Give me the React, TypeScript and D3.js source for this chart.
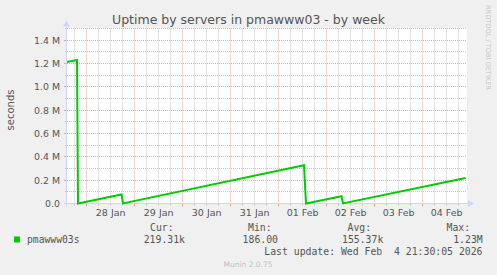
import React from "react";
import * as d3 from "d3";

// ---- data ----
const title = "Uptime by servers in pmawww03 - by week";
const yAxisLabel = "seconds";
const seriesName = "pmawww03s";
const sampleTimes = [
  "2026-01-27T14:10",
  "2026-01-27T19:10",
  "2026-01-27T19:40",
  "2026-01-28T17:25",
  "2026-01-28T18:10",
  "2026-02-01T12:40",
  "2026-02-01T13:40",
  "2026-02-02T07:25",
  "2026-02-02T08:10",
  "2026-02-04T21:30",
];
const uptimeValues = [1212000, 1230000, 186, 78000, 1000, 328000, 500, 62000, 900, 219310];
const yTicks = [0, 200000, 400000, 600000, 800000, 1000000, 1200000, 1400000];
const yTickLabels = ["0.0", "0.2 M", "0.4 M", "0.6 M", "0.8 M", "1.0 M", "1.2 M", "1.4 M"];
const xDomain = ["2026-01-27T14:10", "2026-02-04T22:10"];
const yMax = 1500000;
const legendHeaders = ["Cur:", "Min:", "Avg:", "Max:"];
const legendValues = ["219.31k", "186.00", "155.37k", "1.23M"];
const lastUpdate = "Last update: Wed Feb  4 21:30:05 2026";
const footer = "Munin 2.0.75";
const watermark = "RRDTOOL / TOBI OETIKER";

const W = 497;
const H = 275;
const L = 67, R = 467, T = 28.5, B = 203.5;

const parse = d3.utcParse("%Y-%m-%dT%H:%M");

export default function App() {
  const x = d3.scaleUtc().domain(xDomain.map((s) => parse(s)!)).range([L, R]);
  const y = d3.scaleLinear().domain([0, yMax]).range([B, T]);
  const pts = sampleTimes.map((t, i) => [x(parse(t)!), y(uptimeValues[i])] as [number, number]);
  const line = d3.line()(pts) || "";

  const days = d3.utcDay.range(x.domain()[0], x.domain()[1]);
  const sixH = d3.utcHour.every(6)!.range(x.domain()[0], x.domain()[1]).filter((d) => d.getUTCHours() !== 0);
  const minorY = d3.range(100000, yMax + 1, 100000).filter((v) => Math.round(v / 100000) % 2 === 1);
  const majorY = yTicks.filter((v) => v > 0);
  const fmtDay = d3.utcFormat("%d %b");
  const snap = (v: number) => Math.floor(v) + 0.5;

  const sans = "DejaVu Sans, Verdana, sans-serif";
  const mono = "DejaVu Sans Mono, monospace";
  const txt = "#555555";
  const minorC = "rgba(143,143,143,0.5)";
  const majorC = "rgba(222,79,79,0.5)";
  const axisC = "#CFD6F8";

  const legendHeaderX = [150, 248, 347.5, 446.5];
  const legendValueEnd = [185, 278, 383.3, 482.7];

  return (
    <svg width={W} height={H} style={{ position: "absolute", left: 0, top: 0, display: "block" }}>
      <rect x={0} y={0} width={W} height={H} fill="#F0F0F0" />
      <rect x={L} y={T - 0.5} width={R - L} height={B - T + 0.5} fill="#FFFFFF" />
      {/* minor grid */}
      {sixH.map((d, i) => (
        <line key={"vx" + i} x1={snap(x(d))} x2={snap(x(d))} y1={T} y2={B} stroke={minorC} strokeWidth={1} strokeDasharray="1,1" />
      ))}
      {minorY.map((v, i) => (
        <line key={"hy" + i} x1={L} x2={R} y1={snap(y(v))} y2={snap(y(v))} stroke={minorC} strokeWidth={1} strokeDasharray="1,1" />
      ))}
      {/* major grid */}
      {days.map((d, i) => (
        <line key={"mx" + i} x1={snap(x(d))} x2={snap(x(d))} y1={T} y2={B} stroke={majorC} strokeWidth={1} strokeDasharray="1,1" />
      ))}
      {majorY.map((v, i) => (
        <line key={"my" + i} x1={L} x2={R} y1={snap(y(v))} y2={snap(y(v))} stroke={majorC} strokeWidth={1} strokeDasharray="1,1" />
      ))}
      {/* tick marks */}
      {sixH.map((d, i) => (
        <line key={"tx" + i} x1={snap(x(d))} x2={snap(x(d))} y1={B} y2={B + 2} stroke={minorC} />
      ))}
      {days.map((d, i) => (
        <line key={"tmx" + i} x1={snap(x(d))} x2={snap(x(d))} y1={B} y2={B + 3} stroke={majorC} />
      ))}
      {minorY.map((v, i) => (
        <line key={"ty" + i} x1={L - 2} x2={L} y1={snap(y(v))} y2={snap(y(v))} stroke={minorC} />
      ))}
      {majorY.map((v, i) => (
        <line key={"tmy" + i} x1={L - 3} x2={L} y1={snap(y(v))} y2={snap(y(v))} stroke={majorC} />
      ))}
      {/* axes */}
      <line x1={L - 3} x2={R + 4} y1={snap(B)} y2={snap(B)} stroke={axisC} />
      <line x1={snap(L) - 1} x2={snap(L) - 1} y1={B + 3} y2={T - 4} stroke={axisC} />
      <path d={`M${R + 1},${snap(B) - 3.5}L${R + 7},${snap(B)}L${R + 1},${snap(B) + 3.5}Z`} fill={axisC} />
      <path d={`M${snap(L) - 4.5},${T - 2}L${snap(L) - 1},${T - 8}L${snap(L) + 2.5},${T - 2}Z`} fill={axisC} />
      {/* series */}
      <path d={line} fill="none" stroke="#00CC00" strokeWidth={2} strokeLinejoin="miter" />
      {/* y labels */}
      {yTicks.map((v, i) => (
        <text key={"yl" + i} x={60} y={y(v) + 3.5} textAnchor="end" fontFamily={sans} fontSize={9.4} fill={txt}>
          {yTickLabels[i]}
        </text>
      ))}
      {/* x labels, centered on each day */}
      {days.map((d, i) => {
        const mid = new Date(d.getTime() + 12 * 3600 * 1000);
        return (
          <text key={"xl" + i} x={x(mid)} y={216} textAnchor="middle" fontFamily={sans} fontSize={9.5} fill={txt}>
            {fmtDay(d)}
          </text>
        );
      })}
      {/* title */}
      <text x={248.5} y={24} textAnchor="middle" fontFamily={sans} fontSize={12.5} fill={txt}>
        {title}
      </text>
      <text transform={`translate(13.5,${(T + B) / 2 - 6}) rotate(-90)`} textAnchor="middle" fontFamily={sans} fontSize={10} fill={txt}>
        {yAxisLabel}
      </text>
      <text transform={`translate(485.5,5) rotate(90)`} textAnchor="start" fontFamily={sans} fontSize={6.6} fill="#C8C8C8">
        {watermark}
      </text>
      {/* legend */}
      <rect x={14} y={236.5} width={6} height={6} fill="#00CC00" />
      <text x={27} y={243} fontFamily={mono} fontSize={9.7} fill={txt}>{seriesName}</text>
      {legendHeaders.map((h, i) => (
        <text key={"lh" + i} x={legendHeaderX[i]} y={230.5} fontFamily={mono} fontSize={9.8} fill={txt}>{h}</text>
      ))}
      {legendValues.map((v, i) => (
        <text key={"lv" + i} x={legendValueEnd[i]} y={243} textAnchor="end" fontFamily={mono} fontSize={9.8} fill={txt}>{v}</text>
      ))}
      <text x={482.5} y={255} textAnchor="end" fontFamily={mono} fontSize={9.8} fill={txt} style={{ whiteSpace: "pre" }}>
        {lastUpdate}
      </text>
      <text x={248} y={266.5} textAnchor="middle" fontFamily={sans} fontSize={7.5} fill="#C0C0C0">
        {footer}
      </text>
    </svg>
  );
}
